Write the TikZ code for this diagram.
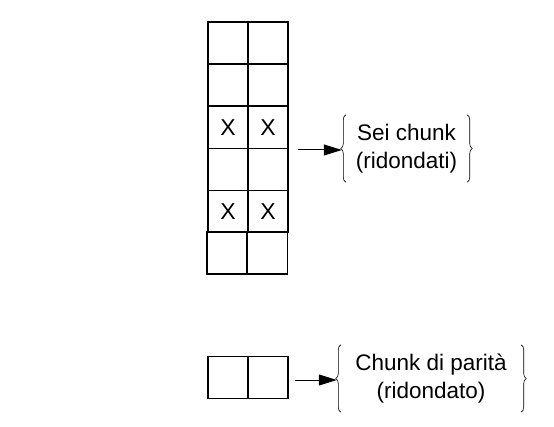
\documentclass[tikz,border=0pt]{standalone}
\usepackage{fontspec}
\setmainfont{Liberation Sans}
\usetikzlibrary{arrows.meta,decorations.pathreplacing}
\begin{document}
\begin{tikzpicture}[x=1pt,y=-1pt,
  cell/.style={draw=black,line width=1.1pt,minimum width=40pt,minimum height=42pt,inner sep=0pt,font=\fontsize{23}{26}\selectfont},
  label/.style={inner sep=0pt,align=center,minimum height=67pt,font=\fontsize{22.5}{28}\selectfont},
  brc/.style={draw=black,line width=0.6pt,decorate,decoration={brace,amplitude=5pt}},
  arr/.style={draw=black,line width=1pt,-{Triangle[length=18pt,width=11pt]}}]
\path[use as bounding box,fill=white] (0,0) rectangle (554,427);
% column of cells
\node[cell] (c11) at (228,43) {};
\node[cell] (c12) at (268,43) {};
\node[cell] (c21) at (228,85) {};
\node[cell] (c22) at (268,85) {};
\node[cell] (c31) at (228,127.5) {X};
\node[cell] (c32) at (268,127.5) {X};
\node[cell] (c41) at (228,169.5) {};
\node[cell] (c42) at (268,169.5) {};
\node[cell] (c51) at (228,211.5) {X};
\node[cell] (c52) at (268,211.5) {X};
\node[cell] (c61) at (227,253) {};
\node[cell] (c62) at (267.5,253) {};
% parity cells
\node[cell] (p1) at (228,377.5) {};
\node[cell] (p2) at (268,377.5) {};
% labels
\node[label,minimum width=121pt] (t1) at (406.5,148.5) {Sei chunk\\(ridondati)};
\node[label,minimum width=180pt] (t2) at (431,378.5) {Chunk di parità\\(ridondato)};
\draw[brc] (t1.south west) -- (t1.north west);
\draw[brc] (t1.north east) -- (t1.south east);
\draw[brc] (t2.south west) -- (t2.north west);
\draw[brc] (t2.north east) -- (t2.south east);
% arrows
\coordinate (a1) at (298,150);
\coordinate (a2) at (295,380);
\draw[arr,shorten >=4pt] (a1) -- (a1 -| t1.west);
\draw[arr,shorten >=4pt] (a2) -- (a2 -| t2.west);
\end{tikzpicture}
\end{document}
